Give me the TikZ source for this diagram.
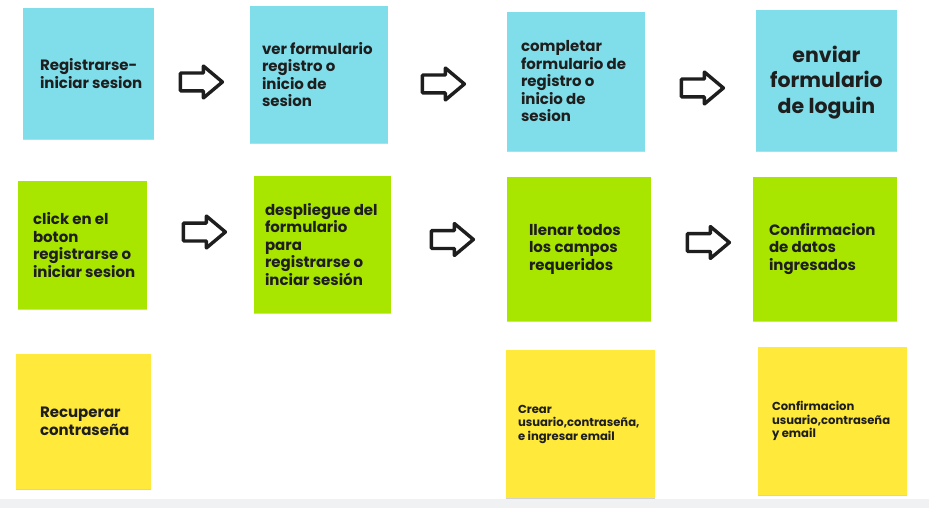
\documentclass[tikz,border=0pt]{standalone}
\usepackage{fontspec}
\setmainfont{Poppins}
\usepackage{tikz}
\usetikzlibrary{shapes.arrows,shadows}

\definecolor{noteblue}{HTML}{80DEEA}
\definecolor{notegreen}{HTML}{A8E600}
\definecolor{noteyellow}{HTML}{FFE93B}
\definecolor{inkgray}{HTML}{1E1E1E}
\definecolor{bandgray}{HTML}{F0F1F3}

\tikzset{
  note/.style={rectangle,inner sep=0pt,
    drop shadow={shadow xshift=0pt,shadow yshift=-1.2pt,opacity=.18,fill=black}},
  notetext/.style={anchor=west,align=left,inner sep=0pt,text=inkgray,
    font=\fontsize{15}{17.5}\selectfont\bfseries},
  smalltext/.style={notetext,font=\fontsize{11.6}{13.5}\selectfont\bfseries},
  flowarrow/.style={single arrow,anchor=tail,draw=inkgray,line width=3.4pt,line join=round,
    fill=white,inner xsep=0pt,inner ysep=7.25pt,minimum height=42pt,
    single arrow head extend=7pt,single arrow tip angle=80}
}

\begin{document}
\begin{tikzpicture}[x=1pt,y=-1pt]
    % Canvas
    \useasboundingbox[fill=white] (0,0) rectangle (929,508);
    \fill[bandgray] (0,499) rectangle (929,508);

    % Row 1: blue notes
    \node[note,fill=noteblue,minimum width=131pt,minimum height=131pt] (reg) at (88.5,73.5) {};
    \node[note,fill=noteblue,minimum width=138pt,minimum height=137pt] (ver) at (319,74.5) {};
    \node[note,fill=noteblue,minimum width=138pt,minimum height=139pt] (comp) at (576,81.5) {};
    \node[note,fill=noteblue,minimum width=141pt,minimum height=141pt] (env) at (826.5,80.5) {};

    \node[notetext] (regtxt) at ([xshift=17pt]reg.west) {Registrarse-\\iniciar sesion};
    \node[notetext] (vertxt) at ([xshift=12pt]ver.west) {ver formulario\\registro o\\inicio de\\sesion};
    \node[notetext] (comptxt) at ([xshift=14pt]comp.west) {completar\\formulario de\\registro o\\inicio de\\sesion};
    \node[notetext,anchor=center,align=center,font=\fontsize{20.5}{25.5}\selectfont\bfseries]
      (envtxt) at ([yshift=-2pt]env.center) {enviar\\formulario\\de loguin};

    % Row 2: green notes
    \node[note,fill=notegreen,minimum width=129pt,minimum height=128pt] (click) at (82.5,245) {};
    \node[note,fill=notegreen,minimum width=137pt,minimum height=137pt] (desp) at (322.5,244.5) {};
    \node[note,fill=notegreen,minimum width=144pt,minimum height=144pt] (llenar) at (579,249) {};
    \node[note,fill=notegreen,minimum width=144pt,minimum height=144pt] (conf) at (825,249) {};

    \node[notetext] (clicktxt) at ([xshift=15pt]click.west) {click en el\\boton\\registrarse o\\iniciar sesion};
    \node[notetext] (desptxt) at ([xshift=11pt]desp.west) {despliegue del\\formulario\\para\\registrarse o\\inciar sesión};
    \node[notetext] (llenartxt) at ([xshift=22pt]llenar.west) {llenar todos\\los campos\\requeridos};
    \node[notetext] (conftxt) at ([xshift=16pt]conf.west) {Confirmacion\\de datos\\ingresados};

    % Row 3: yellow notes
    \node[note,fill=noteyellow,minimum width=135pt,minimum height=135pt] (recup) at (83.5,421.5) {};
    \node[note,fill=noteyellow,minimum width=149pt,minimum height=148pt] (crear) at (580.5,424) {};
    \node[note,fill=noteyellow,minimum width=149pt,minimum height=148pt] (confu) at (832.5,421) {};

    \node[notetext] (recuptxt) at ([xshift=24pt]recup.west) {Recuperar\\contraseña};
    \node[smalltext] (creartxt) at ([xshift=12pt]crear.west) {Crear\\usuario,contraseña,\\e ingresar email};
    \node[smalltext] (confutxt) at ([xshift=14pt]confu.west) {Confirmacion\\usuario,contraseña\\y email};

    % Flow arrows
    \node[flowarrow] (arr1) at (178.7,82) {};
    \node[flowarrow] (arr2) at (420.7,84) {};
    \node[flowarrow] (arr3) at (679.7,88) {};
    \node[flowarrow] (arr4) at (181.7,232) {};
    \node[flowarrow] (arr5) at (429.7,239.5) {};
    \node[flowarrow] (arr6) at (685.7,242.5) {};
\end{tikzpicture}
\end{document}
